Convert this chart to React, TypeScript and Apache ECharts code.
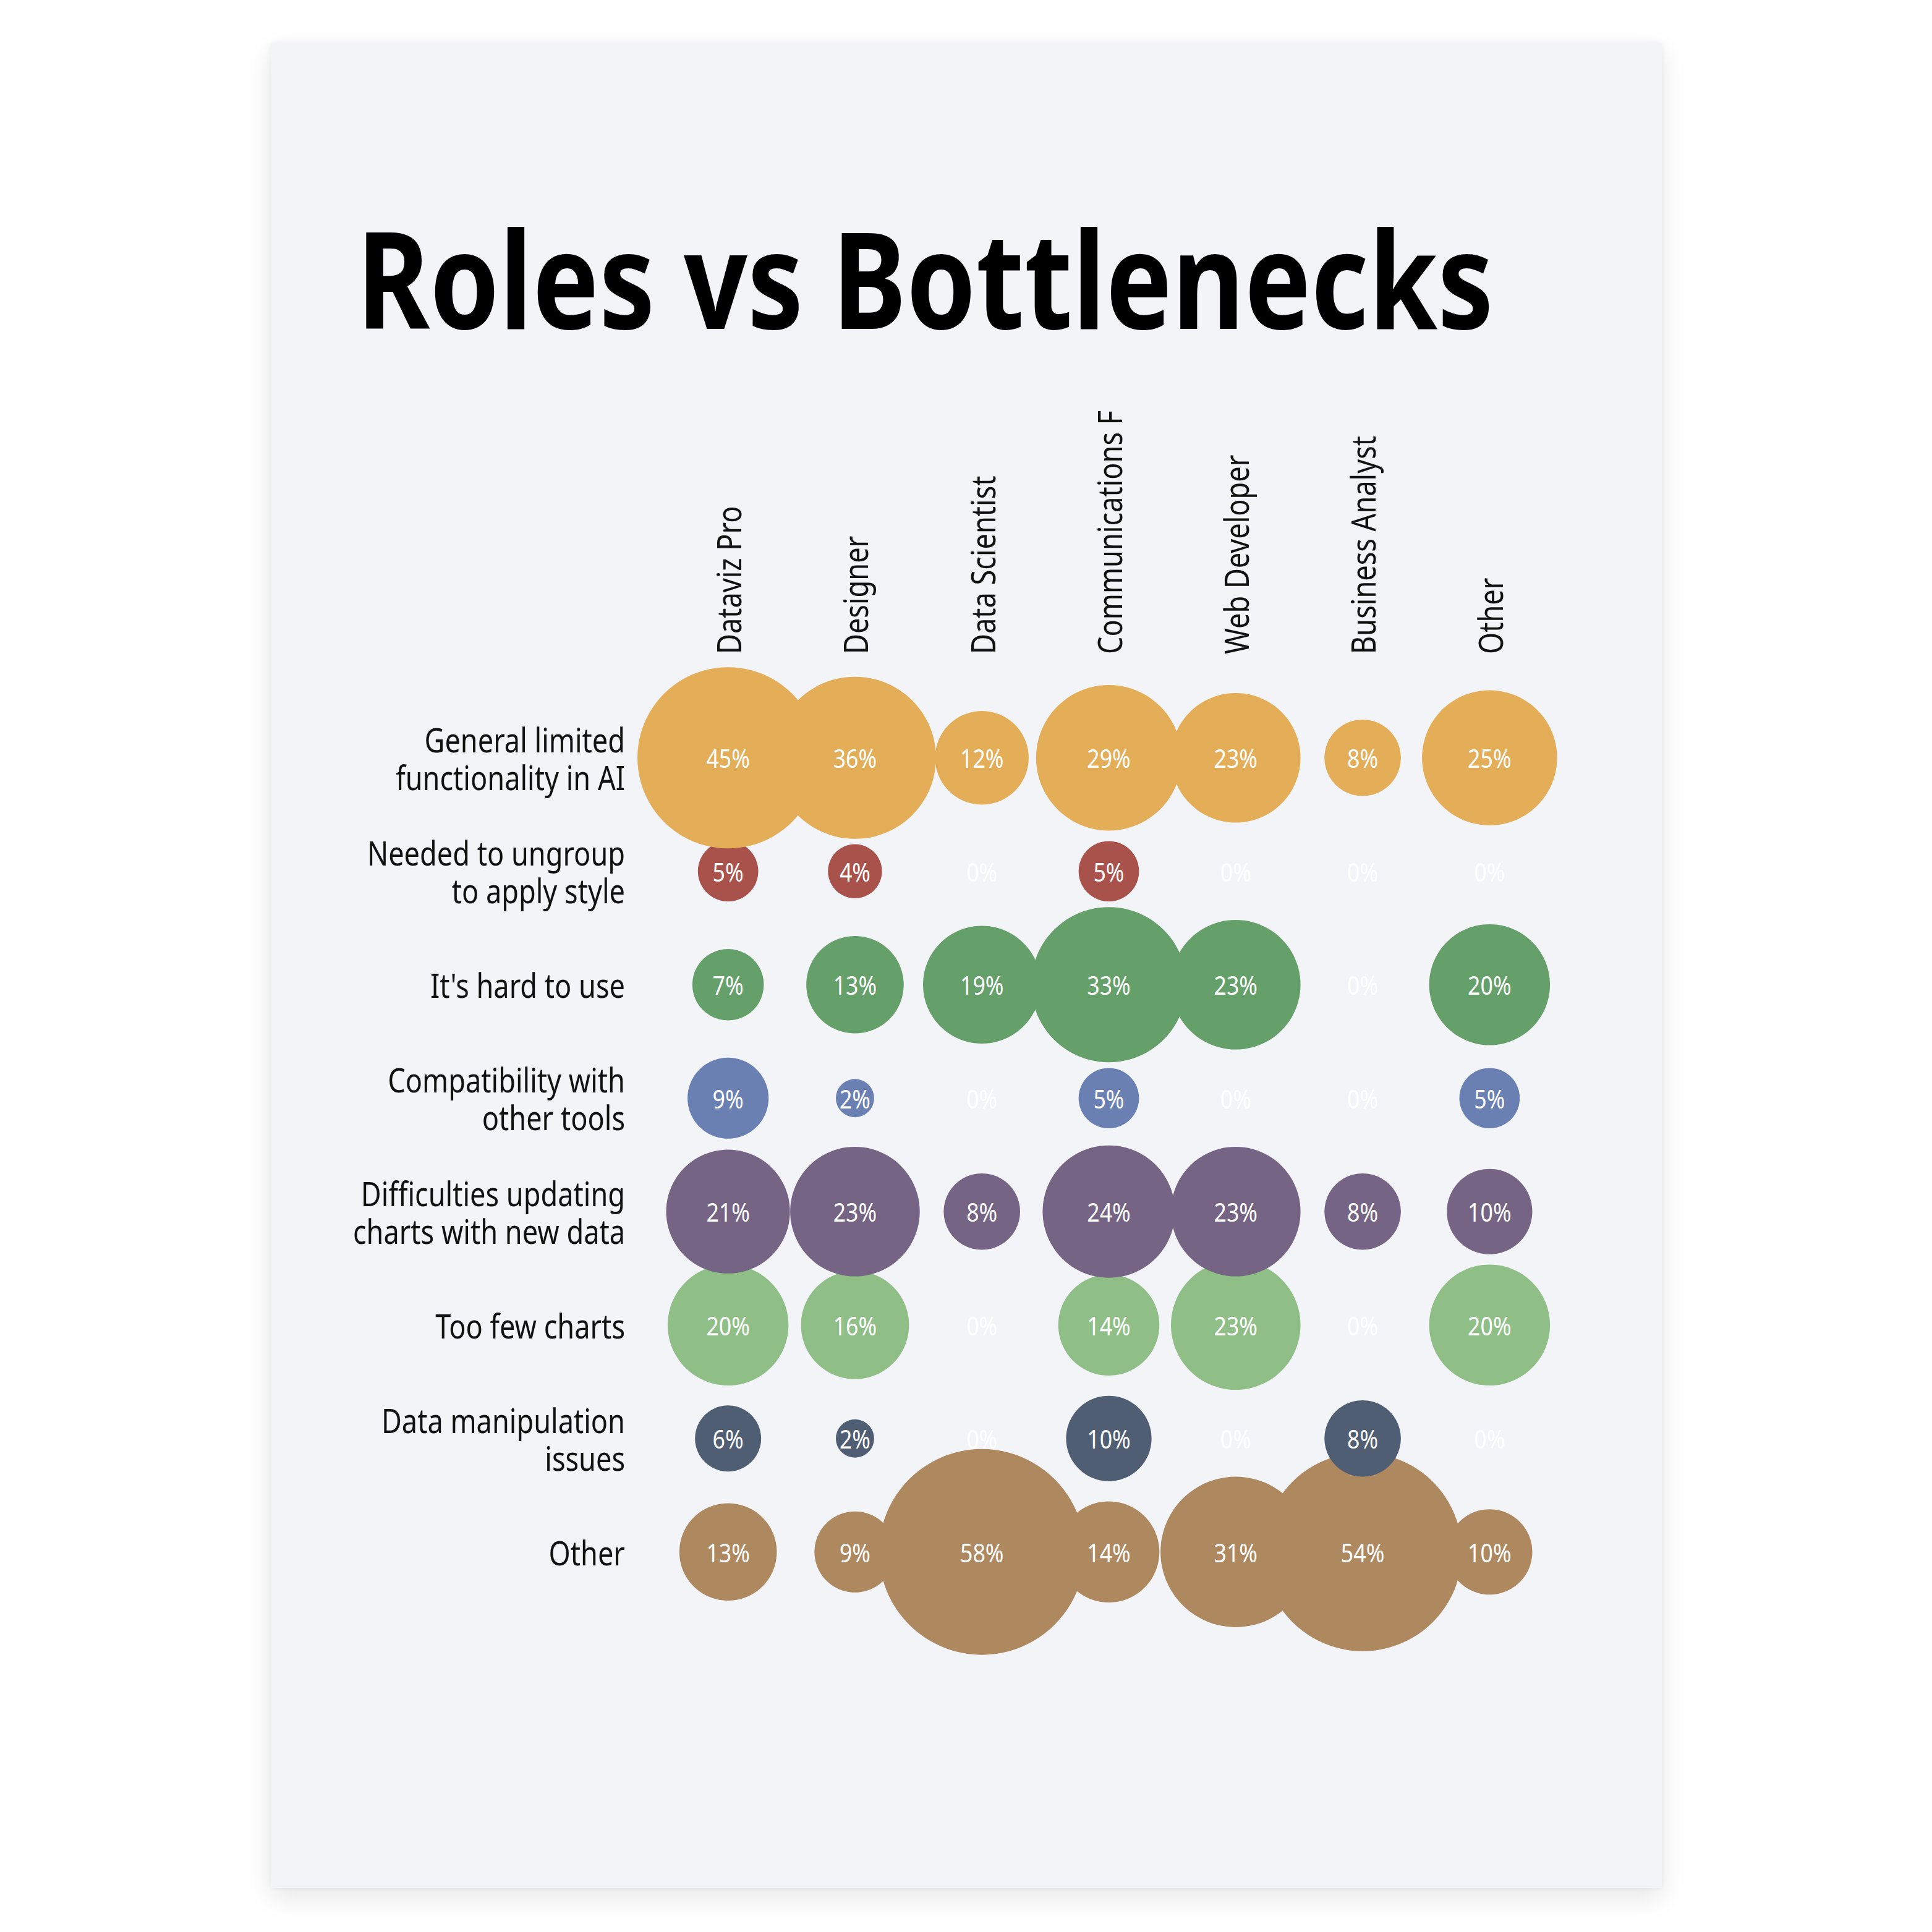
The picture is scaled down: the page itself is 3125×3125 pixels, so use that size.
import React, { useEffect, useRef } from "react";
import * as echarts from "echarts";

// ---------- data ----------
const chartTitle = "Roles vs Bottlenecks";
const roles = [
  "Dataviz Pro",
  "Designer",
  "Data Scientist",
  "Communications F",
  "Web Developer",
  "Business Analyst",
  "Other",
];
const bottlenecks = [
  "General limited\nfunctionality in AI",
  "Needed to ungroup\nto apply style",
  "It's hard to use",
  "Compatibility with\nother tools",
  "Difficulties updating\ncharts with new data",
  "Too few charts",
  "Data manipulation\nissues",
  "Other",
];
const generalLimited = [45, 36, 12, 29, 23, 8, 25];
const neededUngroup = [5, 4, 0, 5, 0, 0, 0];
const hardToUse = [7, 13, 19, 33, 23, 0, 20];
const compatibility = [9, 2, 0, 5, 0, 0, 5];
const difficultiesUpdating = [21, 23, 8, 24, 23, 8, 10];
const tooFewCharts = [20, 16, 0, 14, 23, 0, 20];
const dataManipulation = [6, 2, 0, 10, 0, 8, 0];
const otherBottleneck = [13, 9, 58, 14, 31, 54, 10];
const rowValues = [
  generalLimited,
  neededUngroup,
  hardToUse,
  compatibility,
  difficultiesUpdating,
  tooFewCharts,
  dataManipulation,
  otherBottleneck,
];
const rowColors = [
  "#E4AD58",
  "#A9524B",
  "#659F69",
  "#6A80B2",
  "#756484",
  "#8FBF87",
  "#4F5E72",
  "#AE885F",
];

// ---------- style constants ----------
const FONT = '"Noto Sans", "Open Sans", sans-serif';
const SIZE_K = 43.7; // diameter per sqrt(percent)
const COND_LABEL = 0.82;
const COND_VALUE = 0.85;

function measure(text: string, font: string): number {
  const ctx = document.createElement("canvas").getContext("2d");
  if (!ctx) return text.length * 100;
  ctx.font = font;
  return ctx.measureText(text).width;
}

export default function App() {
  const ref = useRef<HTMLDivElement>(null);

  useEffect(() => {
    if (!ref.current) return;
    const chart = echarts.init(ref.current, undefined, { renderer: "svg" });

    const titleW = measure(chartTitle, 'bold 217px "Noto Sans"');
    const titleScale = 1838 / titleW;

    const nRows = bottlenecks.length;
    const bubbleData: number[][] = [];
    rowValues.forEach((vals, r) => {
      vals.forEach((v, c) => bubbleData.push([c, r, v]));
    });

    chart.setOption({
      animation: false,
      backgroundColor: "transparent",
      grid: { left: 637, top: 1064, width: 1437, height: 1468, containLabel: false },
      xAxis: {
        type: "category",
        data: roles,
        show: false,
      },
      yAxis: {
        type: "category",
        data: bottlenecks,
        inverse: true,
        show: false,
      },
      graphic: [
        {
          type: "text",
          x: 139,
          y: 378,
          scaleX: titleScale,
          style: {
            text: chartTitle,
            fontFamily: FONT,
            fontWeight: "bold",
            fontSize: 217,
            fill: "#000000",
            align: "left",
            verticalAlign: "middle",
          },
        },
      ],
      series: [
        {
          type: "custom",
          name: "bubbles",
          clip: false,
          data: bubbleData,
          encode: { x: 0, y: 1 },
          renderItem: (params: any, api: any) => {
            const c = api.value(0);
            const r = api.value(1);
            const v = api.value(2);
            const p = api.coord([c, r]);
            const z = (nRows - r) * 2;
            const children: any[] = [];
            if (v > 0) {
              children.push({
                type: "circle",
                z2: z,
                shape: { cx: p[0], cy: p[1], r: (SIZE_K * Math.sqrt(v)) / 2 },
                style: { fill: rowColors[r] },
              });
            }
            children.push({
              type: "text",
              z2: z + 1,
              x: p[0],
              y: p[1],
              scaleX: COND_VALUE,
              style: {
                text: v + "%",
                fontFamily: FONT,
                fontSize: 42,
                fill: "#ffffff",
                align: "center",
                verticalAlign: "middle",
              },
            });
            return { type: "group", children };
          },
        },
        {
          type: "custom",
          name: "rowLabels",
          clip: false,
          data: bottlenecks.map((_, i) => [0, i]),
          encode: { x: 0, y: 1 },
          renderItem: (params: any, api: any) => {
            const p = api.coord([0, api.value(1)]);
            return {
              type: "text",
              x: params.coordSys.x - 64,
              y: p[1],
              scaleX: COND_LABEL,
              style: {
                text: bottlenecks[params.dataIndex],
                fontFamily: FONT,
                fontSize: 55,
                lineHeight: 61,
                fill: "#111111",
                align: "right",
                verticalAlign: "middle",
              },
            };
          },
        },
        {
          type: "custom",
          name: "colLabels",
          clip: false,
          data: roles.map((_, i) => [i, 0]),
          encode: { x: 0, y: 1 },
          renderItem: (params: any, api: any) => {
            const p = api.coord([api.value(0), 0]);
            return {
              type: "text",
              x: p[0],
              y: params.coordSys.y - 76,
              rotation: Math.PI / 2,
              scaleX: COND_LABEL,
              style: {
                text: roles[params.dataIndex],
                fontFamily: FONT,
                fontSize: 55,
                fill: "#111111",
                align: "left",
                verticalAlign: "middle",
              },
            };
          },
        },
      ],
    });

    return () => chart.dispose();
  }, []);

  return (
    <div
      style={{
        position: "absolute",
        left: 0,
        top: 0,
        width: 3125,
        height: 3125,
        background: "#ffffff",
        overflow: "hidden",
      }}
    >
      <div
        style={{
          position: "absolute",
          left: 438,
          top: 70,
          width: 2250,
          height: 2984,
          background: "#F3F4F8",
          boxShadow: "0 14px 40px rgba(0,0,0,0.10), 0 0 8px rgba(0,0,0,0.06)",
        }}
      >
        <div ref={ref} style={{ width: 2250, height: 2984 }} />
      </div>
    </div>
  );
}
